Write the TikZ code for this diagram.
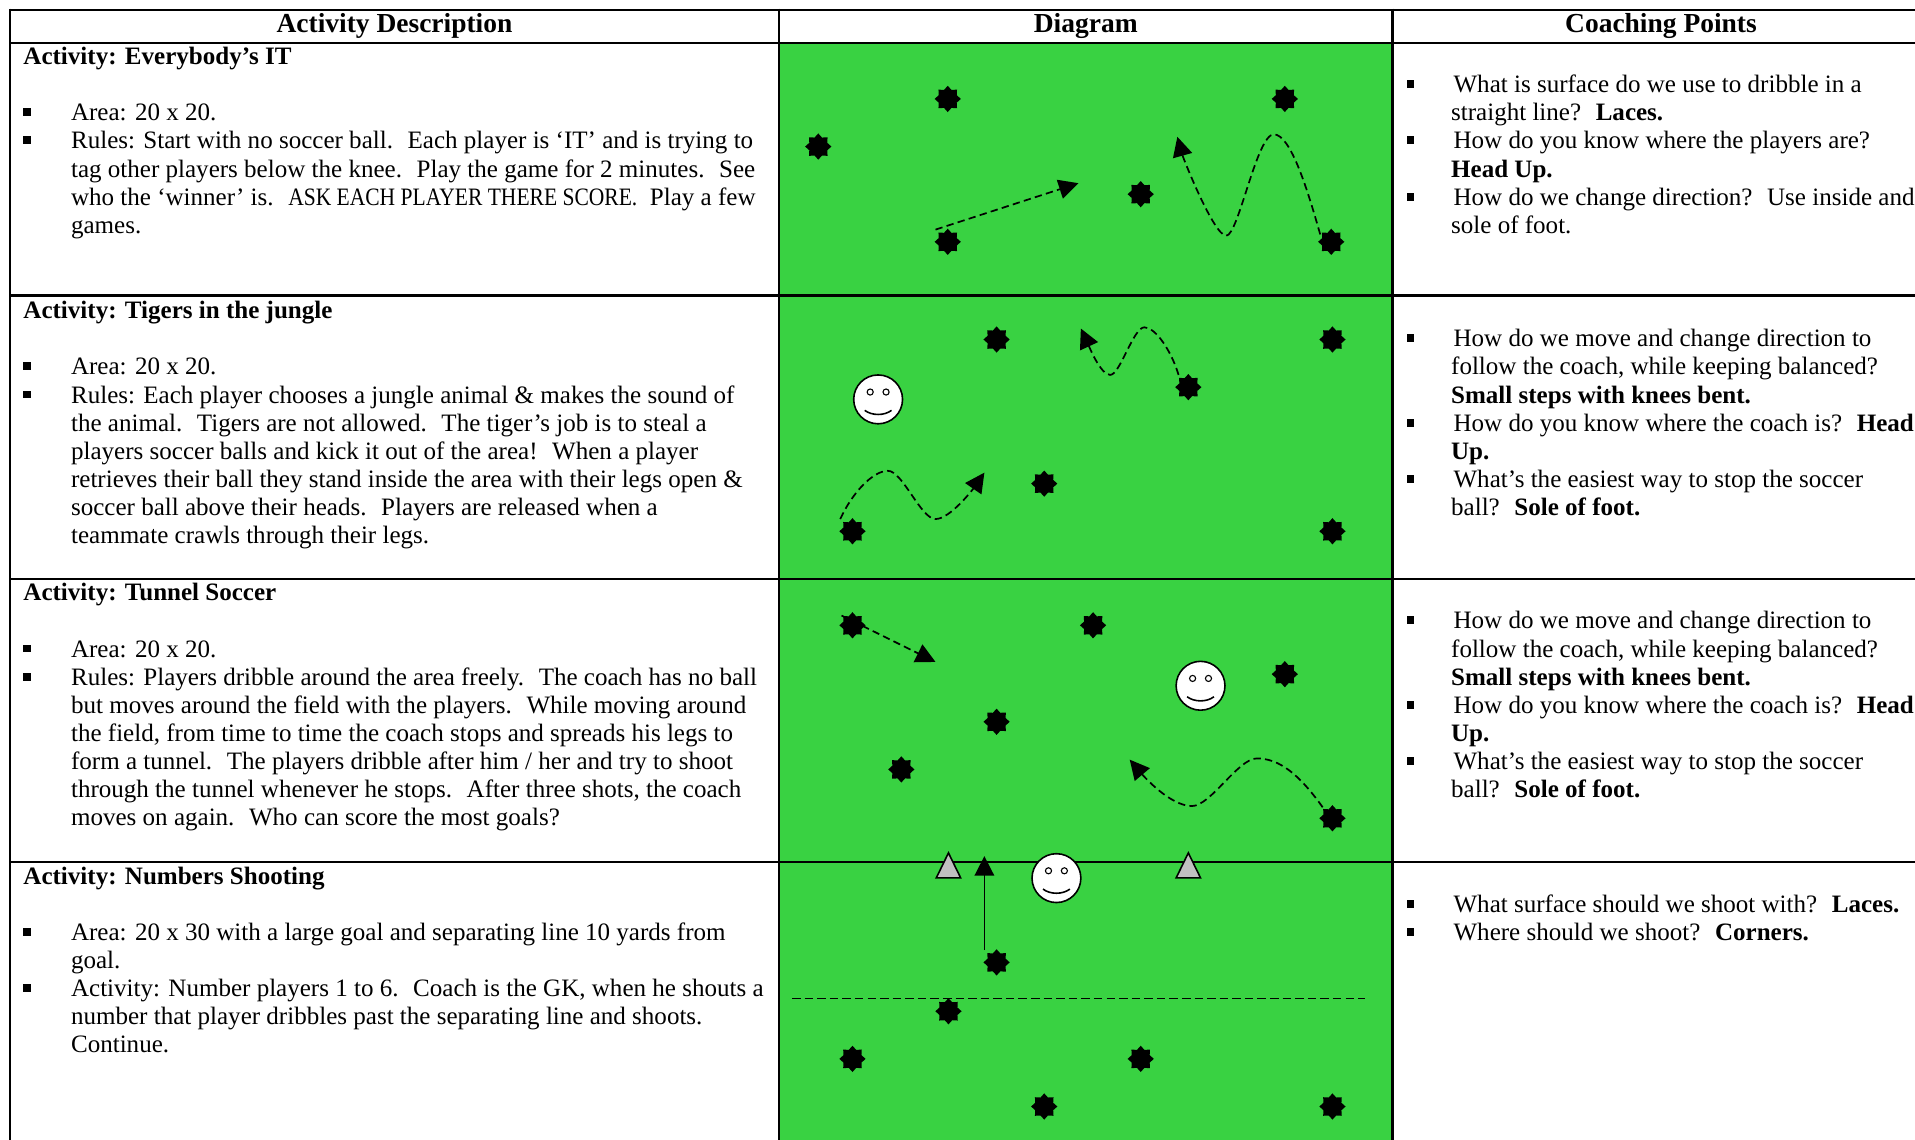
\documentclass[tikz,border=0pt]{standalone}
\usepackage{fontspec}
\setmainfont{Liberation Serif}
\usetikzlibrary{shapes.geometric,arrows.meta}
\definecolor{field}{RGB}{57,210,66}
\definecolor{cone}{RGB}{192,192,192}
\tikzset{
  txt/.style={anchor=base west, inner sep=0pt, font=\fontsize{20.5}{23}\selectfont},
  head/.style={anchor=center, inner sep=0pt, font=\bfseries\fontsize{22.5}{25}\selectfont},
  bullet/.style={rectangle, fill=black, minimum width=6pt, minimum height=6.5pt, inner sep=0pt},
  player/.style={star, star points=8, star point ratio=1.35, minimum size=21.5pt, inner sep=0pt, fill=black},
  smileyface/.style={circle, draw=black, line width=1.3pt, fill=white, minimum size=40pt, inner sep=0pt},
  eye/.style={circle, draw=black, line width=0.9pt, fill=white, minimum size=5pt, inner sep=0pt},
  conenode/.style={isosceles triangle, shape border rotate=90, isosceles triangle stretches,
    minimum width=20pt, minimum height=20.5pt, inner sep=0pt, draw=black, line width=1.3pt, fill=cone, anchor=south},
  grid/.style={line width=2pt, black},
  arr/.style={line width=1.4pt, -{Triangle[length=16pt,width=16pt]}},
  darr/.style={arr, dash pattern=on 6pt off 3.5pt},
}
\newcommand\tline[4]{\node[txt] (#1) at (#2,{#3+6}) {#4};}
\newcommand\bul[3]{\node[bullet] (#1) at (#2,{#3-1}) {};}
\newcommand\smiley[3]{%
  \node[smileyface] (#1) at (#2,#3) {};
  \node[eye] (#1le) at ([shift={(-6.5,-6)}]#1.center) {};
  \node[eye] (#1re) at ([shift={(6.5,-6)}]#1.center) {};
  \draw[line width=1.3pt] ([shift={(-11,9)}]#1.center) .. controls ([shift={(-5,13.5)}]#1.center) and ([shift={(5,13.5)}]#1.center) .. ([shift={(11,9)}]#1.center);
}
\begin{document}
\begin{tikzpicture}[x=1pt,y=-1pt]
\useasboundingbox (0,0) rectangle (1568,933);
\clip (0,0) rectangle (1568,933);
\fill[white] (0,0) rectangle (1568,933);
% field
\fill[field] (638,35) rectangle (1140,940);
% table grid
\draw[grid] (8,8) -- (1600,8);
\draw[grid] (8,35) -- (1600,35);
\draw[grid] (8,242) -- (1600,242);
\draw[grid] (8,474) -- (1600,474);
\draw[grid] (8,706) -- (1600,706);
\draw[grid] (8,7) -- (8,940);
\draw[grid] (638,7) -- (638,940);
\draw[grid] (1140,7) -- (1140,940);
% headers
\node[head] (h1) at (323,21) {Activity Description};
\node[head] (h2) at (889,21) {Diagram};
\node[head] (h3) at (1360,21) {Coaching Points};

% ---------- Row 1 left
\tline{t1}{19}{47}{\bfseries Activity: Everybody’s IT}
\bul{b11}{22}{93}\tline{l11}{58}{93}{Area: 20 x 20.}
\bul{b12}{22}{116}\tline{l12}{58}{116}{Rules: Start with no soccer ball.~ Each player is ‘IT’ and is trying to}
\tline{l13}{58}{139}{tag other players below the knee.~ Play the game for 2 minutes.~ See}
\tline{l14}{58}{162}{who the ‘winner’ is.~ \scalebox{0.86}[1]{ASK EACH PLAYER THERE SCORE.}~ Play a few}
\tline{l15}{58}{185}{games.}
% Row 1 right
\bul{c11}{1155}{70}\tline{r11}{1190}{70}{What is surface do we use to dribble in a}
\tline{r12}{1188}{93}{straight line?~ \textbf{Laces.}}
\bul{c12}{1155}{116}\tline{r13}{1190}{116}{How do you know where the players are?}
\tline{r14}{1188}{139}{\textbf{Head Up.}}
\bul{c13}{1155}{162}\tline{r15}{1190}{162}{How do we change direction?~ Use inside and}
\tline{r16}{1188}{185}{sole of foot.}

% ---------- Row 2 left
\tline{t2}{19}{255}{\bfseries Activity: Tigers in the jungle}
\bul{b21}{22}{301}\tline{l21}{58}{301}{Area: 20 x 20.}
\bul{b22}{22}{324}\tline{l22}{58}{324}{Rules: Each player chooses a jungle animal \& makes the sound of}
\tline{l23}{58}{347}{the animal.~ Tigers are not allowed.~ The tiger’s job is to steal a}
\tline{l24}{58}{370}{players soccer balls and kick it out of the area!~ When a player}
\tline{l25}{58}{393}{retrieves their ball they stand inside the area with their legs open \&}
\tline{l26}{58}{416}{soccer ball above their heads.~ Players are released when a}
\tline{l27}{58}{439}{teammate crawls through their legs.}
% Row 2 right
\bul{c21}{1155}{278}\tline{r21}{1190}{278}{How do we move and change direction to}
\tline{r22}{1188}{301}{follow the coach, while keeping balanced?}
\tline{r23}{1188}{324}{\textbf{Small steps with knees bent.}}
\bul{c22}{1155}{347}\tline{r24}{1190}{347}{How do you know where the coach is?~ \textbf{Head}}
\tline{r25}{1188}{370}{\textbf{Up.}}
\bul{c23}{1155}{393}\tline{r26}{1190}{393}{What’s the easiest way to stop the soccer}
\tline{r27}{1188}{416}{ball?~ \textbf{Sole of foot.}}

% ---------- Row 3 left
\tline{t3}{19}{486}{\bfseries Activity: Tunnel Soccer}
\bul{b31}{22}{532}\tline{l31}{58}{532}{Area: 20 x 20.}
\bul{b32}{22}{555}\tline{l32}{58}{555}{Rules: Players dribble around the area freely.~ The coach has no ball}
\tline{l33}{58}{578}{but moves around the field with the players.~ While moving around}
\tline{l34}{58}{601}{the field, from time to time the coach stops and spreads his legs to}
\tline{l35}{58}{624}{form a tunnel.~ The players dribble after him / her and try to shoot}
\tline{l36}{58}{647}{through the tunnel whenever he stops.~ After three shots, the coach}
\tline{l37}{58}{670}{moves on again.~ Who can score the most goals?}
% Row 3 right
\bul{c31}{1155}{509}\tline{r31}{1190}{509}{How do we move and change direction to}
\tline{r32}{1188}{532}{follow the coach, while keeping balanced?}
\tline{r33}{1188}{555}{\textbf{Small steps with knees bent.}}
\bul{c32}{1155}{578}\tline{r34}{1190}{578}{How do you know where the coach is?~ \textbf{Head}}
\tline{r35}{1188}{601}{\textbf{Up.}}
\bul{c33}{1155}{624}\tline{r36}{1190}{624}{What’s the easiest way to stop the soccer}
\tline{r37}{1188}{647}{ball?~ \textbf{Sole of foot.}}

% ---------- Row 4 left
\tline{t4}{19}{718}{\bfseries Activity: Numbers Shooting}
\bul{b41}{22}{764}\tline{l41}{58}{764}{Area: 20 x 30 with a large goal and separating line 10 yards from}
\tline{l42}{58}{787}{goal.}
\bul{b42}{22}{810}\tline{l43}{58}{810}{Activity: Number players 1 to 6.~ Coach is the GK, when he shouts a}
\tline{l44}{58}{833}{number that player dribbles past the separating line and shoots.}
\tline{l45}{58}{856}{Continue.}
% Row 4 right
\bul{c41}{1155}{741}\tline{r41}{1190}{741}{What surface should we shoot with?~ \textbf{Laces.}}
\bul{c42}{1155}{764}\tline{r42}{1190}{764}{Where should we shoot?~ \textbf{Corners.}}

% ================= Diagram row 1
\node[player] (p11) at (776,81) {};
\node[player] (p12) at (670,120) {};
\node[player] (p13) at (1052,81) {};
\node[player] (p14) at (934,159) {};
\node[player] (p15) at (776,198) {};
\node[player] (p16) at (1090,198) {};
\coordinate (a1s) at (766,188);
\coordinate (a1e) at (883,150);
\draw[darr] (a1s) -- (a1e);
\coordinate (b1s) at (1081,192);
\coordinate (b1p) at (1043,110);
\coordinate (b1t) at (1004,193);
\coordinate (b1e) at (964,112);
\draw[darr] (b1s) .. controls +(-10,-35) and +(14,0) .. (b1p)
  .. controls +(-14,0) and +(10,0) .. (b1t)
  .. controls +(-10,0) and +(5,18) .. (b1e);

% ================= Diagram row 2
\node[player] (p21) at (816,278) {};
\node[player] (p22) at (1091,278) {};
\node[player] (p23) at (973,317) {};
\node[player] (p24) at (855,396) {};
\node[player] (p25) at (698,435) {};
\node[player] (p26) at (1091,435) {};
\smiley{s2}{719}{327}
\coordinate (a2s) at (965,307);
\coordinate (a2p) at (937,268);
\coordinate (a2t) at (909,307);
\coordinate (a2e) at (885,269);
\draw[darr] (a2s) .. controls +(-6,-20) and +(9,0) .. (a2p)
  .. controls +(-9,0) and +(8,0) .. (a2t)
  .. controls +(-8,0) and +(6,13) .. (a2e);
\coordinate (b2s) at (688,425);
\coordinate (b2p) at (727,385.5);
\coordinate (b2t) at (766,425);
\coordinate (b2e) at (806,387);
\draw[darr] (b2s) .. controls +(10,-22) and +(-12,0) .. (b2p)
  .. controls +(12,0) and +(-12,0) .. (b2t)
  .. controls +(12,0) and +(-9,13) .. (b2e);

% ================= Diagram row 3
\node[player] (p31) at (698,512) {};
\node[player] (p32) at (895,512) {};
\node[player] (p33) at (1052,552) {};
\node[player] (p34) at (816,591) {};
\node[player] (p35) at (738,630) {};
\node[player] (p36) at (1091,670) {};
\smiley{s3}{983}{561.5}
\coordinate (a3s) at (689,504);
\coordinate (a3e) at (766,542);
\draw[darr] (a3s) -- (a3e);
\coordinate (b3s) at (1083,661);
\coordinate (b3p) at (1029,621);
\coordinate (b3t) at (976,660);
\coordinate (b3e) at (925,622);
\draw[darr] (b3s) .. controls +(-20,-28) and +(18,0) .. (b3p)
  .. controls +(-15,0) and +(15,0) .. (b3t)
  .. controls +(-18,0) and +(11,13) .. (b3e);

% ================= Diagram row 4
\node[conenode] (k1) at (776.6,719.5) {};
\node[conenode] (k2) at (973,719.5) {};
\smiley{s4}{865}{719}
\node[player] (p41) at (816,788) {};
\node[player] (p42) at (776.6,828) {};
\node[player] (p43) at (698,867) {};
\node[player] (p44) at (934,867) {};
\node[player] (p45) at (855,906) {};
\node[player] (p46) at (1091,906) {};
\coordinate (a4s) at (806,778);
\coordinate (a4e) at (806,701);
\draw[arr] (a4s) -- (a4e);
\coordinate (d4s) at (648.5,817.5);
\coordinate (d4e) at (1118,817.5);
\draw[line width=1.4pt, dash pattern=on 7pt off 3.3pt] (d4s) -- (d4e);
\end{tikzpicture}
\end{document}
